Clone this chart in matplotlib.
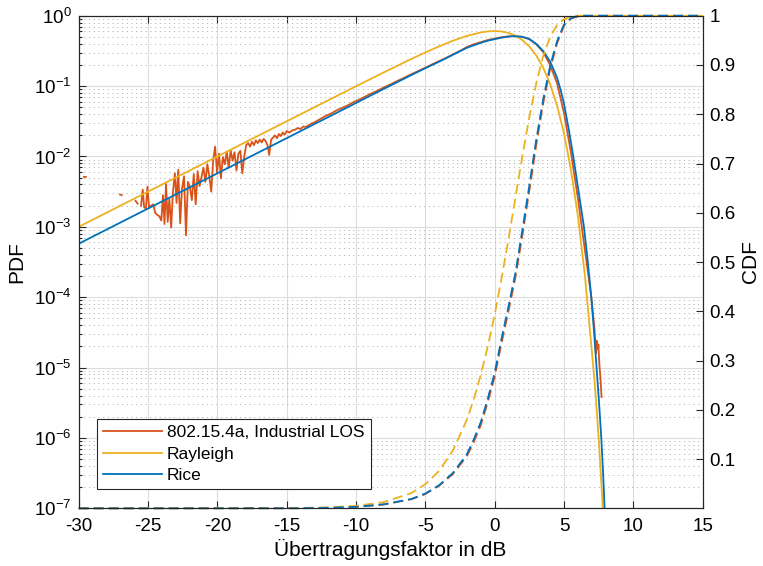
import numpy as np
import matplotlib
matplotlib.use('Agg')
import matplotlib.pyplot as plt
from matplotlib.ticker import FixedLocator, LogLocator, FuncFormatter, NullFormatter

plt.rcParams['font.family'] = ['Liberation Sans', 'DejaVu Sans']
plt.rcParams['axes.unicode_minus'] = False
plt.rcParams['lines.scale_dashes'] = False
plt.rcParams['mathtext.default'] = 'regular'

# Messung 802.15.4a (log10 der PDF), nan = leere Klassen
meas_x = [-29.62, -29.48, np.nan, -27.02, -26.90, np.nan, -25.90, -25.75, np.nan,
          -25.50, -25.38, -25.28, -25.15, -25.04, -24.92, -24.78, -24.62, -24.48, -24.33,
          -24.18, -24.04, -23.92, -23.81, -23.70, -23.58, -23.46, -23.33, -23.20, -23.06,
          -22.94, -22.82, -22.68, -22.55, -22.40, -22.26, -22.12, -21.98, -21.84, -21.70,
          -21.56, -21.42, -21.28, -21.14, -21.00, -20.86, -20.72, -20.58, -20.44, -20.30,
          -20.16, -20.02, -19.88, -19.74, -19.60, -19.46, -19.32, -19.18, -19.04, -18.90,
          -18.76, -18.62, -18.48, -18.34, -18.20, -18.06, -17.92, -17.78, -17.64, -17.50,
          -17.36, -17.22, -17.08, -16.94, -16.80, -16.66, -16.52, -16.38, -16.26, -16.12,
          -15.98, -15.84, -15.70, -15.56, -15.42, -15.28, -15.14, -15.00, -14.80, -14.60,
          -14.40, -14.20, -14.00, -13.80, -13.60, -13.40, -13.20, -13.00,
          -12.6, -12.2, -11.8, -11.4, -11.0, -10.6, -10.2, -9.8, -9.4, -9.0, -8.5, -8.0,
          -7.5, -7.0, -6.5, -6.0, -5.5, -5.0, -4.5, -4.0, -3.5, -3.0, -2.5, -2.0, -1.5,
          -1.0, -0.5, 0.0, 0.5, 1.0, 1.5, 2.0, 2.5, 3.0, 3.5, 4.0, 4.5, 5.0, 5.5, 6.0,
          6.5, 6.97, 7.10, 7.20, 7.31, 7.37, 7.42, 7.48, 7.55, 7.63, 7.71]
meas_log = [-2.29, -2.29, np.nan, -2.54, -2.55, np.nan, -2.63, -2.67, np.nan,
            -2.70, -2.47, -2.72, -2.74, -2.43, -2.73, -2.70, -2.68, -2.80, -2.83,
            -2.85, -2.91, -2.55, -2.96, -2.39, -2.93, -2.60, -3.01, -2.50, -2.24,
            -2.66, -2.19, -2.95, -2.46, -2.28, -3.12, -2.36, -2.43, -2.62, -2.25,
            -2.68, -2.21, -2.42, -2.29, -2.16, -2.36, -2.11, -2.28, -2.50, -2.06,
            -1.86, -2.23, -1.96, -2.31, -2.01, -2.11, -1.93, -2.16, -1.91, -2.06,
            -1.94, -2.20, -1.96, -1.92, -2.24, -2.00, -1.84, -1.81, -1.86, -1.79,
            -1.84, -1.77, -1.81, -1.76, -1.80, -1.75, -1.78, -1.84, -1.98, -1.76,
            -1.73, -1.70, -1.74, -1.68, -1.71, -1.66, -1.69, -1.64, -1.66, -1.63,
            -1.62, -1.595, -1.61, -1.575, -1.58, -1.555, -1.53, -1.515,
            -1.47, -1.425, -1.39, -1.345, -1.31, -1.275, -1.23, -1.195, -1.155, -1.115, -1.07, -1.02,
            -0.975, -0.925, -0.88, -0.83, -0.785, -0.74, -0.69, -0.645, -0.60, -0.55, -0.50, -0.445, -0.405,
            -0.375, -0.345, -0.325, -0.305, -0.293, -0.29, -0.30, -0.333, -0.405, -0.515, -0.70, -0.96, -1.38, -1.94, -2.59,
            -3.32, -4.0, -4.25, -4.45, -4.80, -4.62, -4.73, -4.67, -4.95, -5.15, -5.42]

# Rayleigh PDF
rayl_x = [-30, -20, -15, -10, -8, -6, -5, -4, -3, -2, -1, -0.5, 0, 0.5, 1, 1.5, 2, 2.5,
          3, 3.5, 4, 4.5, 5, 5.5, 6, 6.5, 7, 7.25, 7.5, 7.75, 8]
rayl_pdf = [1.0e-3, 1.0e-2, 3.16e-2, 9.95e-2, 0.1565, 0.2434, 0.3008, 0.3678, 0.442, 0.517,
            0.579, 0.599, 0.6065, 0.598, 0.570, 0.521, 0.451, 0.366, 0.273, 0.183, 0.107,
            0.0531, 0.0213, 6.5e-3, 1.44e-3, 2.1e-4, 1.8e-5, 5.0e-6, 1.0e-6, 1.5e-7, 1.5e-8]

# Rice PDF (log10)
rice_x = [-30, -10, -8, -6, -5, -4, -3, -2, -1, -0.5, 0, 0.5, 1.0, 1.4, 2.0, 2.5, 3.0, 3.5,
          4.0, 4.5, 4.76, 5.0, 5.35, 5.67, 6.0, 6.44, 6.72, 6.97, 7.17, 7.35, 7.53, 7.69,
          7.82, 7.93, 8.0]
rice_log = [-3.24, -1.24, -1.04, -0.842, -0.745, -0.652, -0.553, -0.455, -0.385, -0.355,
            -0.333, -0.312, -0.296, -0.290, -0.300, -0.33, -0.40, -0.50, -0.65, -0.88,
            -1.056, -1.25, -1.62, -2.0, -2.43, -3.0, -3.5, -4.0, -4.5, -5.0, -5.5, -6.0,
            -6.5, -7.0, -7.4]

# CDFs
rayl_cdf_x = [-30, -16, -14, -12, -10, -8, -6, -5, -4, -3, -2, -1.5, -1, -0.5, 0, 0.5, 1,
              1.5, 2, 2.5, 3, 3.5, 4, 4.5, 5, 5.5, 6, 7, 15]
rayl_cdf = [0, 0.0003, 0.0008, 0.002, 0.005, 0.0125, 0.031, 0.049, 0.076, 0.118, 0.180,
            0.222, 0.271, 0.328, 0.393, 0.467, 0.547, 0.631, 0.715, 0.794, 0.863, 0.918,
            0.957, 0.981, 0.993, 0.998, 1.0, 1.0, 1.0]

rice_cdf_x = [-30, -14, -12, -10, -8, -6, -5, -4, -3, -2, -1.5, -1, -0.5, 0, 0.5, 1, 1.5,
              2, 2.5, 3, 3.5, 4, 4.5, 5, 5.5, 6, 6.5, 15]
rice_cdf = [0, 0.0002, 0.001, 0.003, 0.008, 0.019, 0.030, 0.047, 0.072, 0.110, 0.140,
            0.175, 0.222, 0.275, 0.345, 0.410, 0.478, 0.565, 0.655, 0.748, 0.830, 0.898,
            0.948, 0.982, 0.995, 0.999, 1.0, 1.0]
meas_cdf = [0, 0.0002, 0.001, 0.003, 0.0078, 0.0185, 0.029, 0.046, 0.070, 0.106, 0.135,
            0.169, 0.215, 0.267, 0.336, 0.401, 0.469, 0.555, 0.645, 0.738, 0.822, 0.892,
            0.944, 0.980, 0.994, 0.999, 1.0, 1.0]

c_meas = '#D95319'
c_rayl = '#EDB120'
c_rice = '#0072BD'
lw = 1.3
dash = (0, (7.2, 3.6))

fig = plt.figure(figsize=(7.63, 5.66), dpi=100)
ax = fig.add_axes([0.1031, 0.1019, 0.8178, 0.8703])

ax.plot(meas_x, 10 ** np.array(meas_log), color=c_meas, lw=lw, label='802.15.4a, Industrial LOS')
ax.plot(rayl_x, rayl_pdf, color=c_rayl, lw=lw, label='Rayleigh')
ax.plot(rice_x, 10 ** np.array(rice_log), color=c_rice, lw=lw, label='Rice')

ax.set_yscale('log')
ax.set_xlim(-30, 15)
ax.set_ylim(1e-7, 1)
ax.set_xticks(range(-30, 16, 5))
ax.yaxis.set_major_locator(FixedLocator([10.0 ** k for k in range(-7, 1)]))
ax.yaxis.set_minor_locator(LogLocator(base=10, subs=np.arange(2, 10)))
ax.yaxis.set_minor_formatter(NullFormatter())
ax.yaxis.set_major_formatter(FuncFormatter(lambda v, p: r'$10^{%d}$' % round(np.log10(v))))

ax.set_axisbelow(True)
ax.grid(True, which='major', color='#dcdcdc', lw=0.8)
ax.grid(True, which='minor', axis='y', color='#b4b4b4', ls=(0, (0.8, 2.6)), lw=0.7)

ax.tick_params(which='both', direction='in', top=True, right=True, labelsize=13.5,
               color='#262626', width=0.8)
ax.tick_params(which='major', length=5)
ax.tick_params(which='minor', length=2.5)
ax.tick_params(axis='x', pad=7)
ax.tick_params(axis='y', pad=5)
for s in ax.spines.values():
    s.set_color('#262626')
    s.set_linewidth(0.8)

ax.set_xlabel('Übertragungsfaktor in dB', fontsize=15, labelpad=3)
ax.set_ylabel('PDF', fontsize=15, labelpad=6)

leg = ax.legend(loc='lower left', bbox_to_anchor=(0.029, 0.039), borderaxespad=0,
                fontsize=12.5, handlelength=3.4, handletextpad=0.3, labelspacing=0.36,
                borderpad=0.35, fancybox=False, framealpha=1, edgecolor='#262626')
leg.get_frame().set_linewidth(0.8)

ax2 = ax.twinx()
ax2.plot(rice_cdf_x, meas_cdf, color=c_meas, lw=lw, ls=dash, clip_on=False)
ax2.plot(rayl_cdf_x, rayl_cdf, color=c_rayl, lw=lw, ls=dash, clip_on=False)
ax2.plot(rice_cdf_x, rice_cdf, color=c_rice, lw=lw, ls=dash, clip_on=False)
ax2.set_ylim(0, 1)
ax2.set_yticks(np.arange(1, 11) / 10)
ax2.set_yticklabels(['0.1', '0.2', '0.3', '0.4', '0.5', '0.6', '0.7', '0.8', '0.9', '1'])
ax2.tick_params(direction='in', length=5, labelsize=13.5, color='#262626', width=0.8, pad=5)
for s in ax2.spines.values():
    s.set_color('#262626')
    s.set_linewidth(0.8)
ax2.set_ylabel('CDF', fontsize=15, labelpad=4)

fig.savefig('out.png', dpi=100)
